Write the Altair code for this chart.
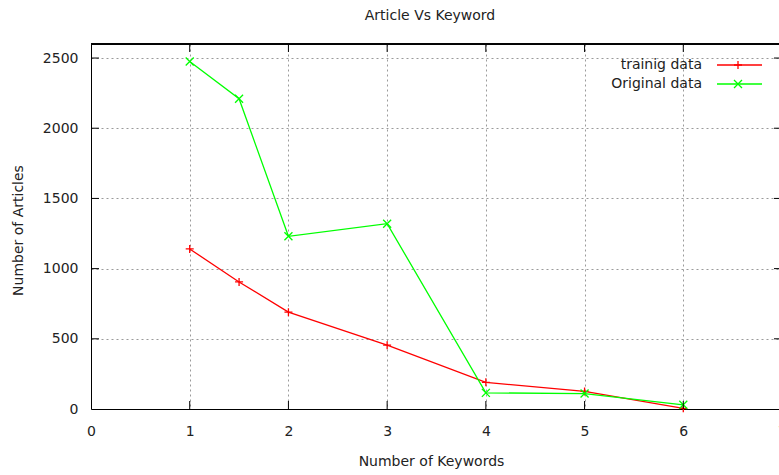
import altair as alt
import pandas as pd

# Keyword counts and the number of articles in each data set
keywords = [1, 1.5, 2, 3, 4, 5, 6]
training_counts = [1140, 905, 690, 455, 190, 125, 5]
original_counts = [2475, 2210, 1230, 1320, 115, 110, 30]

series_names = ["trainig data", "Original data"]
series_colors = ["#ff0000", "#00ff00"]
# "+" for the training set, "x" for the original set
series_shapes = ["M-1,0L1,0M0,-1L0,1", "M-1,-1L1,1M-1,1L1,-1"]

x_ticks = [0, 1, 2, 3, 4, 5, 6, 7]
y_ticks = [0, 500, 1000, 1500, 2000, 2500]

W, H = 688, 365          # visible plot area
XR = 691                 # x = 7 sits just past the right edge
FONT = "DejaVu Sans"
FS = 14
TXT = "#222222"
GRID = "#9a9a9a"

df = pd.DataFrame({
    "keywords": keywords * 2,
    "articles": training_counts + original_counts,
    "series": [series_names[0]] * len(keywords) + [series_names[1]] * len(keywords),
})

x_scale = alt.Scale(domain=[0, 7], range=[0, XR], nice=False, zero=False)
y_scale = alt.Scale(domain=[0, 2600], nice=False)
color = alt.Color("series:N", scale=alt.Scale(domain=series_names, range=series_colors), legend=None)
shape = alt.Shape("series:N", scale=alt.Scale(domain=series_names, range=series_shapes), legend=None)

x_enc = alt.X(
    "keywords:Q", scale=x_scale,
    axis=alt.Axis(
        values=x_ticks, format="d", title="Number of Keywords",
        grid=True, gridDash=[2, 3], gridColor=GRID, gridWidth=1,
        tickSize=0, labelPadding=15, labelFontSize=FS, labelFont=FONT, labelColor=TXT,
        titleFont=FONT, titleFontSize=FS, titleFontWeight="normal", titleColor=TXT,
        titleX=340, titleY=52, titleBaseline="middle", titleAlign="center",
        domainColor="#000", labelFlush=False,
    ),
)
y_enc = alt.Y(
    "articles:Q", scale=y_scale,
    axis=alt.Axis(
        values=y_ticks, format="d", title="Number of Articles",
        grid=True, gridDash=[2, 3], gridColor=GRID, gridWidth=1,
        tickSize=0, labelPadding=13, labelFontSize=FS, labelFont=FONT, labelColor=TXT,
        titleFont=FONT, titleFontSize=FS, titleFontWeight="normal", titleColor=TXT,
        titleX=-73, titleY=186, titleAngle=-90, titleBaseline="middle", titleAlign="center",
        domainColor="#000",
    ),
)

base = alt.Chart(df)
lines = base.mark_line(strokeWidth=1.3).encode(x=x_enc, y=y_enc, color=color, detail="series:N")
points = base.mark_point(filled=False, size=64, strokeWidth=1.3, opacity=1).encode(
    x="keywords:Q", y="articles:Q", color=color, shape=shape
)

# inward tick marks on all four borders
xt = pd.DataFrame({"t": x_ticks[1:-1]})
yt = pd.DataFrame({"t": y_ticks[1:]})
tick_bottom = alt.Chart(xt).mark_rule(color="#000").encode(
    x=alt.X("t:Q", scale=x_scale), y=alt.value(H), y2=alt.value(H - 8))
tick_top = alt.Chart(xt).mark_rule(color="#000").encode(
    x=alt.X("t:Q", scale=x_scale), y=alt.value(0), y2=alt.value(8))
tick_left = alt.Chart(yt).mark_rule(color="#000").encode(
    y=alt.Y("t:Q", scale=y_scale), x=alt.value(0), x2=alt.value(8))
tick_right = alt.Chart(yt).mark_rule(color="#000").encode(
    y=alt.Y("t:Q", scale=y_scale), x=alt.value(XR - 8), x2=alt.value(XR))
top_border = alt.Chart(xt).mark_rule(color="#000").encode(
    x=alt.value(0), x2=alt.value(XR), y=alt.value(0))

# key in the upper right corner
legend_layers = []
for i, name in enumerate(series_names):
    ly = 21 + i * 19
    one = pd.DataFrame({"series": [name]})
    legend_layers.append(alt.Chart(one).mark_text(
        align="right", baseline="middle", font=FONT, fontSize=FS, color=TXT
    ).encode(x=alt.value(611), y=alt.value(ly), text="series:N"))
    legend_layers.append(alt.Chart(one).mark_rule(strokeWidth=1.3).encode(
        x=alt.value(626), x2=alt.value(671), y=alt.value(ly), color=color))
    legend_layers.append(alt.Chart(one).mark_point(filled=False, size=64, strokeWidth=1.3, opacity=1).encode(
        x=alt.value(647), y=alt.value(ly), color=color, shape=shape))

chart = alt.layer(
    lines, points, tick_bottom, tick_top, tick_left, tick_right, top_border, *legend_layers
).properties(
    width=W, height=H,
    padding={"left": 91, "top": 44, "right": 0, "bottom": 66},
    autosize=alt.AutoSizeParams(type="none"),
    title=alt.TitleParams("Article Vs Keyword", font=FONT, fontSize=FS, fontWeight="normal",
                          color=TXT, anchor="middle", offset=21, dx=-5),
    background="white",
).configure_view(stroke=None)

chart.save("out.html", embed_options={"renderer": "svg", "actions": False})
